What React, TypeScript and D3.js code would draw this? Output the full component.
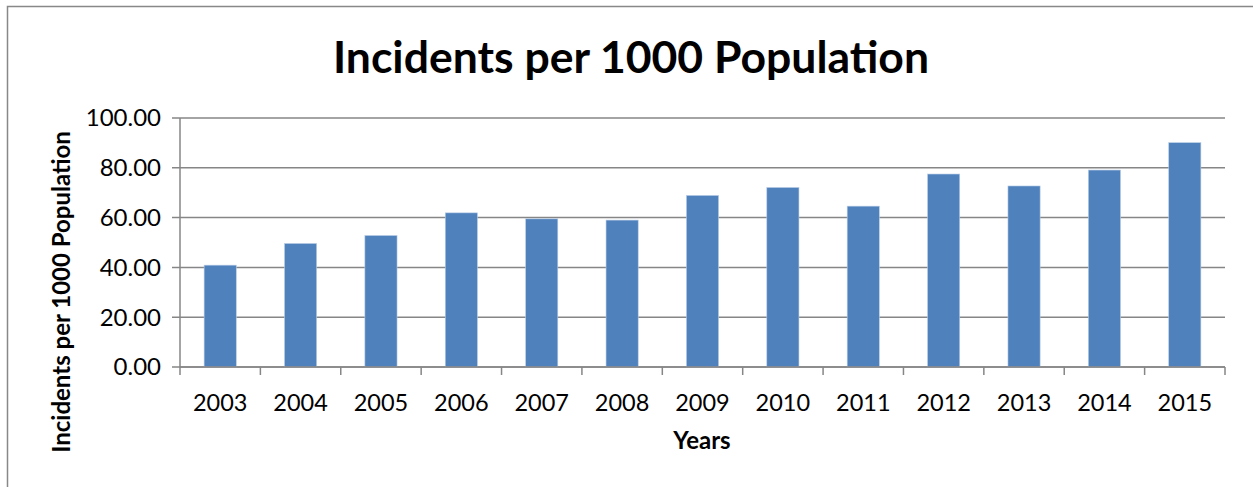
import * as React from "react";
import * as d3 from "d3";

const years = ["2003", "2004", "2005", "2006", "2007", "2008", "2009", "2010", "2011", "2012", "2013", "2014", "2015"];
const incidents = [40.9, 49.6, 52.8, 61.9, 59.5, 59.0, 68.9, 72.1, 64.6, 77.5, 72.7, 79.1, 90.1];
const yTicks = [0, 20, 40, 60, 80, 100];

const W = 1253;
const H = 487;
const FONT = "Lato, 'Open Sans', sans-serif";

export default function App() {
  const ref = React.useRef<SVGSVGElement>(null);

  React.useEffect(() => {
    const el = ref.current;
    if (!el) return;
    const svg = d3.select(el);
    svg.selectAll("*").remove();

    const left = 180;
    const right = 1225;
    const top = 118;
    const bottom = 367;

    const x = d3.scaleBand<string>().domain(years).range([left, right]).paddingInner(0.6).paddingOuter(0.3);
    const xEdges = d3.scaleLinear().domain([0, years.length]).range([left, right]);
    const y = d3.scaleLinear().domain([0, 100]).range([bottom, top]);

    // chart frame
    svg.append("rect")
      .attr("x", 7.5).attr("y", 6.5)
      .attr("width", W + 20).attr("height", H + 20)
      .attr("fill", "#fff").attr("stroke", "#888").attr("stroke-width", 1.5);

    // title
    svg.append("text")
      .attr("x", 631).attr("y", 73)
      .attr("text-anchor", "middle")
      .attr("font-family", FONT).attr("font-weight", "bold")
      .attr("font-size", 44.5).attr("fill", "#000")
      .text("Incidents per 1000 Population");

    // gridlines + y ticks
    const grid = svg.append("g");
    yTicks.forEach((t) => {
      grid.append("line")
        .attr("x1", left - 8).attr("x2", right)
        .attr("y1", y(t)).attr("y2", y(t))
        .attr("stroke", "#868686").attr("stroke-width", 1.5);
      grid.append("text")
        .attr("x", left - 19).attr("y", y(t))
        .attr("dy", "0.35em")
        .attr("text-anchor", "end")
        .attr("font-family", FONT).attr("font-size", 24).attr("fill", "#000")
        .text(t.toFixed(2));
    });

    // bars
    svg.append("g")
      .selectAll("rect")
      .data(incidents)
      .enter()
      .append("rect")
      .attr("x", (_d, i) => x(years[i])!)
      .attr("y", (d) => y(d))
      .attr("width", x.bandwidth())
      .attr("height", (d) => bottom - y(d))
      .attr("fill", "#4F81BD")
      .attr("stroke", "#b9cde5").attr("stroke-width", 0.6);

    // axes
    svg.append("line")
      .attr("x1", left).attr("x2", left)
      .attr("y1", top).attr("y2", bottom)
      .attr("stroke", "#868686").attr("stroke-width", 1.5);
    svg.append("line")
      .attr("x1", left).attr("x2", right)
      .attr("y1", bottom).attr("y2", bottom)
      .attr("stroke", "#868686").attr("stroke-width", 1.5);

    d3.range(years.length + 1).forEach((i) => {
      svg.append("line")
        .attr("x1", xEdges(i)).attr("x2", xEdges(i))
        .attr("y1", bottom).attr("y2", bottom + 8)
        .attr("stroke", "#868686").attr("stroke-width", 1.5);
    });

    svg.append("g")
      .selectAll("text")
      .data(years)
      .enter()
      .append("text")
      .attr("x", (d) => x(d)! + x.bandwidth() / 2)
      .attr("y", 403)
      .attr("dy", "0.35em")
      .attr("text-anchor", "middle")
      .attr("font-family", FONT).attr("font-size", 23.5).attr("fill", "#000")
      .text((d) => d);

    // axis titles
    svg.append("text")
      .attr("x", 702).attr("y", 441)
      .attr("dy", "0.35em")
      .attr("text-anchor", "middle")
      .attr("font-family", FONT).attr("font-weight", "bold")
      .attr("font-size", 24).attr("fill", "#000")
      .text("Years");

    svg.append("text")
      .attr("transform", "translate(62,292) rotate(-90)")
      .attr("dy", "0.35em")
      .attr("text-anchor", "middle")
      .attr("font-family", FONT).attr("font-weight", "bold")
      .attr("font-size", 24).attr("fill", "#000")
      .text("Incidents per 1000 Population");
  }, []);

  return (
    <svg
      ref={ref}
      width={W}
      height={H}
      style={{ position: "absolute", left: 0, top: 0, background: "#fff" }}
    />
  );
}
